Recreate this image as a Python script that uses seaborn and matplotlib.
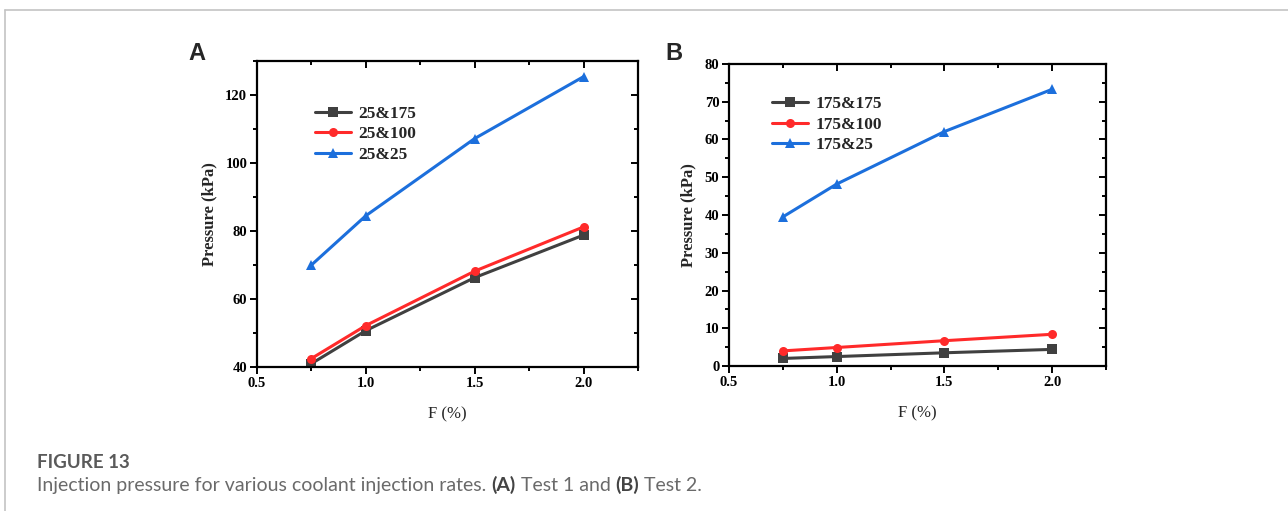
import matplotlib
matplotlib.use("Agg")
import matplotlib.pyplot as plt
import seaborn as sns
import pandas as pd
from matplotlib.lines import Line2D
from matplotlib.ticker import MultipleLocator

sns.set_theme(style="white")
plt.rcParams['font.family'] = ['Liberation Serif', 'DejaVu Serif']

F = [0.75, 1.0, 1.5, 2.0]

labels_a = ["25&175", "25&100", "25&25"]
a_175 = [41.0, 50.7, 66.3, 78.8]
a_100 = [42.5, 52.2, 68.2, 81.2]
a_25 = [70.0, 84.5, 107.2, 125.4]

labels_b = ["175&175", "175&100", "175&25"]
b_175 = [2.0, 2.5, 3.5, 4.4]
b_100 = [4.0, 4.9, 6.7, 8.4]
b_25 = [39.5, 48.2, 62.1, 73.3]

colors = ["#404040", "#ff2a2a", "#1c6fdc"]
markers = ["s", "o", "^"]


def long_df(labels, series):
    rows = []
    for lab, vals in zip(labels, series):
        for f, v in zip(F, vals):
            rows.append({"F": f, "P": v, "case": lab})
    return pd.DataFrame(rows)


fig = plt.figure(figsize=(12.88, 5.11), dpi=100)
W, H = 1288, 511

# frame
fig.add_artist(Line2D([4.5 / W, 1.0], [1 - 10.5 / H, 1 - 10.5 / H], color="#c4c4c4", lw=1.2))
fig.add_artist(Line2D([4.5 / W, 4.5 / W], [0, 1 - 10.5 / H], color="#c4c4c4", lw=1.2))


def make_panel(rect, labels, series, ylim, ymaj, ymin, leg_anchor, letter, letter_xy):
    ax = fig.add_axes(rect)
    df = long_df(labels, series)
    pal = dict(zip(labels, colors))
    mk = dict(zip(labels, markers))
    sns.lineplot(data=df, x="F", y="P", hue="case", style="case", markers=mk,
                 dashes=False, palette=pal, hue_order=labels, style_order=labels,
                 lw=2.2, markersize=6.5, markeredgewidth=0, ax=ax)
    ax.set_xlim(0.5, 2.25)
    ax.set_ylim(*ylim)
    ax.xaxis.set_major_locator(MultipleLocator(0.5))
    ax.xaxis.set_minor_locator(MultipleLocator(0.25))
    ax.yaxis.set_major_locator(MultipleLocator(ymaj))
    ax.yaxis.set_minor_locator(MultipleLocator(ymin))
    ax.xaxis.set_major_formatter(matplotlib.ticker.FormatStrFormatter('%.1f'))
    for s in ax.spines.values():
        s.set_color("black")
        s.set_linewidth(1.6)
    ax.tick_params(which="both", direction="out", color="black", width=1.4,
                   bottom=True, left=True)
    ax.tick_params(which="major", length=5)
    ax.tick_params(which="minor", length=3)
    for lab in ax.get_xticklabels() + ax.get_yticklabels():
        lab.set_fontweight("bold")
        lab.set_fontsize(10.5)
    ax.tick_params(axis="both", pad=2, labelcolor="black")
    # mirrored inward ticks on top/right
    top = ax.secondary_xaxis("top")
    top.xaxis.set_major_locator(MultipleLocator(0.5))
    top.xaxis.set_minor_locator(MultipleLocator(0.25))
    top.tick_params(which="both", direction="in", labeltop=False, width=1.4, color="black")
    top.tick_params(which="major", length=5)
    top.tick_params(which="minor", length=3)
    top.spines["top"].set_visible(False)
    right = ax.secondary_yaxis("right")
    right.yaxis.set_major_locator(MultipleLocator(ymaj))
    right.yaxis.set_minor_locator(MultipleLocator(ymin))
    right.tick_params(which="both", direction="in", labelright=False, width=1.4, color="black")
    right.tick_params(which="major", length=5)
    right.tick_params(which="minor", length=3)
    right.spines["right"].set_visible(False)

    ax.set_xlabel("F (%)", fontsize=12, labelpad=12)
    ax.set_ylabel("Pressure (kPa)", fontsize=12, fontweight="bold", labelpad=6)
    ax.legend(loc="upper left", bbox_to_anchor=leg_anchor, frameon=False,
              handlelength=2.1, handletextpad=0.4, labelspacing=0.25,
              prop={"weight": "bold", "size": 12.5})
    fig.text(letter_xy[0] / W, 1 - letter_xy[1] / H, letter, fontsize=17, fontweight="bold",
             family=["Liberation Sans", "DejaVu Sans"], ha="center", va="center")
    return ax


make_panel([257 / W, 1 - 367 / H, (638 - 257) / W, (367 - 61) / H],
           labels_a, [a_175, a_100, a_25], (40, 130), 20, 10,
           (0.11, 0.905), "A", (197, 54))
make_panel([729 / W, 1 - 366 / H, (1106 - 729) / W, (366 - 64) / H],
           labels_b, [b_175, b_100, b_25], (0, 80), 10, 5,
           (0.072, 0.945), "B", (674, 54))

fig.text(37 / W, 1 - 462 / H, "FIGURE 13", fontsize=13.5, fontweight="bold", color="#5a5a5a",
         family=["Lato", "DejaVu Sans"], ha="left", va="center")

# caption with bold parts, placed sequentially
renderer = fig.canvas.get_renderer()
parts = [("Injection pressure for various coolant injection rates. ", "normal"),
         ("(A)", "bold"), (" Test 1 and ", "normal"), ("(B)", "bold"), (" Test 2.", "normal")]
x = 37 / W
for txt, wt in parts:
    t = fig.text(x, 1 - 485 / H, txt, fontsize=14, fontweight=wt,
                 color="#444444" if wt == "bold" else "#6a6a6a",
                 family=["Lato", "DejaVu Sans"], ha="left", va="center")
    bb = t.get_window_extent(renderer=renderer)
    x += bb.width / W

fig.savefig("out.png", dpi=100)
